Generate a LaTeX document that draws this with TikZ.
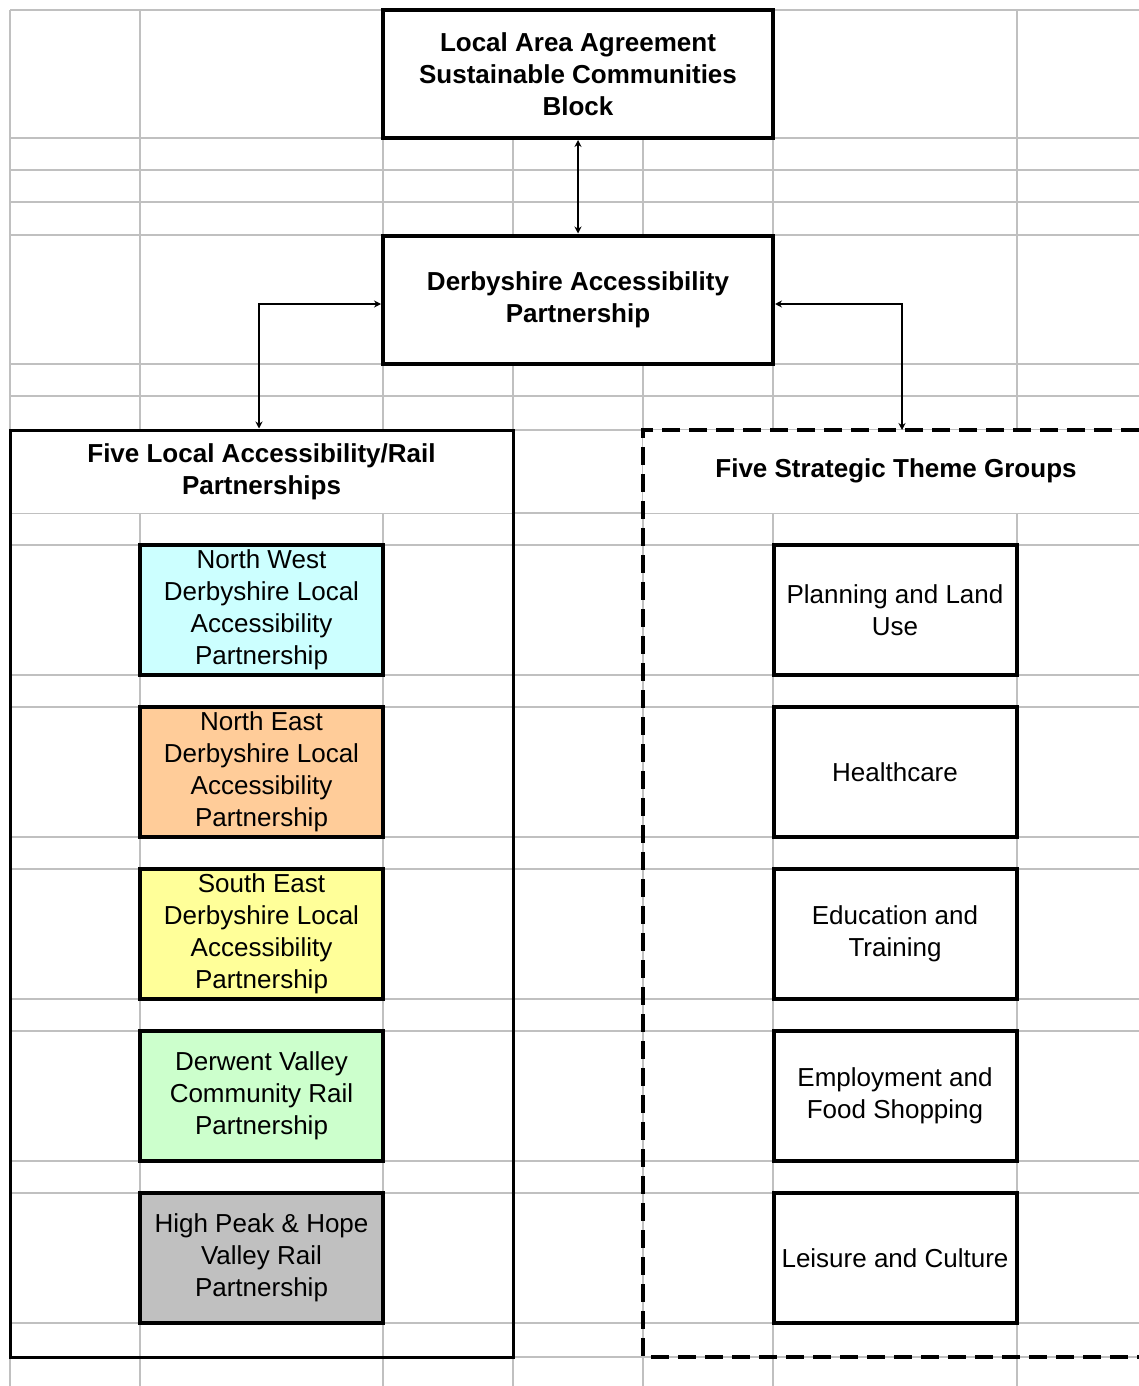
\documentclass[tikz,border=0pt]{standalone}
\usepackage{fontspec}
\setmainfont{Liberation Sans}
\usetikzlibrary{arrows.meta}
\definecolor{gridgray}{HTML}{C0C0C0}
\definecolor{nwcol}{HTML}{CCFFFF}
\definecolor{necol}{HTML}{FFCC99}
\definecolor{secol}{HTML}{FFFF99}
\definecolor{dvcol}{HTML}{CCFFCC}
\definecolor{hpcol}{HTML}{C0C0C0}
\tikzset{
  gridln/.style={draw=gridgray, line width=1pt},
  boldtxt/.style={font=\fontsize{13}{16}\selectfont\bfseries},
  normtxt/.style={font=\fontsize{13}{16}\selectfont},
  topbox/.style={draw, line width=2pt, fill=white, inner sep=0pt, align=center,
    minimum width=195pt, minimum height=64pt, boldtxt},
  smallbox/.style={draw, line width=2pt, fill=white, inner sep=0pt, align=center,
    minimum width=121.5pt, minimum height=65pt, normtxt},
  titlearea/.style={fill=white, inner sep=0pt, align=center, boldtxt},
  conn/.style={line width=0.75pt, {Stealth[length=3.5pt,width=3.5pt]}-{Stealth[length=3.5pt,width=3.5pt]}},
}
\begin{document}
\begin{tikzpicture}[x=0.5pt,y=-0.5pt]
\useasboundingbox (0,0) rectangle (1139,1386);
% spreadsheet grid
\foreach \gx in {10,140,383,513,643,773,1017}
  \draw[gridln] (\gx,10) -- (\gx,1386);
\foreach \gy in {10,138,170,202,235,364,396,430,513,545,675,707,837,869,999,1031,1161,1193,1323,1357}
  \draw[gridln] (10,\gy) -- (1139,\gy);

% top boxes
\node[topbox] (top) at (578,74) {Local Area Agreement\\Sustainable Communities\\Block};
\node[topbox] (dap) at (578,299.5) {Derbyshire Accessibility\\Partnership};

% left group
\node[titlearea, minimum width=251.5pt, minimum height=41.5pt] (ltitle) at (261.5,471.5)
  {Five Local Accessibility/Rail\\Partnerships};
\node[draw, line width=1.5pt, inner sep=0pt, minimum width=251.5pt, minimum height=463.5pt] (lbox) at (261.5,893.5) {};
\node[smallbox, fill=nwcol] (nw) at (261.5,610) {North West\\Derbyshire Local\\Accessibility\\Partnership};
\node[smallbox, fill=necol] (ne) at (261.5,772) {North East\\Derbyshire Local\\Accessibility\\Partnership};
\node[smallbox, fill=secol] (se) at (261.5,934) {South East\\Derbyshire Local\\Accessibility\\Partnership};
\node[smallbox, fill=dvcol] (dv) at (261.5,1096) {Derwent Valley\\Community Rail\\Partnership};
\node[smallbox, fill=hpcol] (hp) at (261.5,1258) {High Peak \& Hope\\Valley Rail\\Partnership};

% right group
\node[titlearea, minimum width=248pt, minimum height=41.5pt] (rtitle) at (891,471.5) {};
\node[boldtxt, inner sep=0pt] (rtitletxt) at (896,471) {Five Strategic Theme Groups};
\draw[line width=1.75pt, dash pattern=on 9pt off 4.5pt] (1139,430) -- (643,430) -- (643,1357) -- (1139,1357);
\coordinate (rtop) at (902,430);
\node[smallbox] (plan) at (895,610) {Planning and Land\\Use};
\node[smallbox] (health) at (895,772) {Healthcare};
\node[smallbox] (edu) at (895,934) {Education and\\Training};
\node[smallbox] (emp) at (895,1096) {Employment and\\Food Shopping};
\node[smallbox] (leis) at (895,1258) {Leisure and Culture};

% connectors
\draw[conn] (top.south) -- (dap.north);
\draw[conn] ([yshift=-2.25pt]dap.west) -| ([xshift=-1.25pt]lbox.north);
\draw[conn] ([yshift=-2.25pt]dap.east) -| (rtop);
\end{tikzpicture}
\end{document}
